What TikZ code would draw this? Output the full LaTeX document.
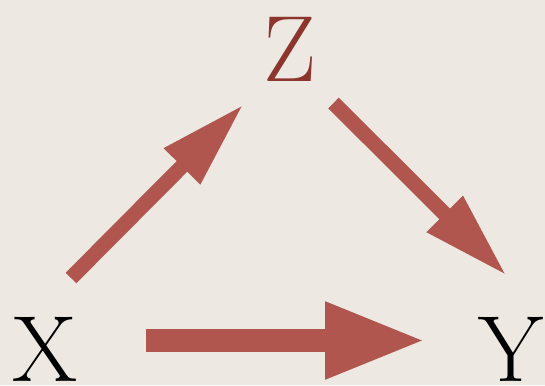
\documentclass[tikz,border=0pt]{standalone}
\usetikzlibrary{arrows.meta}
\definecolor{bg}{HTML}{EDE8E2}
\definecolor{arrowred}{HTML}{B0564E}
\definecolor{zred}{HTML}{8C352D}
\begin{document}
\begin{tikzpicture}[x=1pt,y=-1pt,
  letter/.style={inner sep=0pt,anchor=base,font=\fontsize{94}{94}\selectfont},
  diagarrow/.style={draw=arrowred,line width=15pt,-{Triangle[length=88pt,width=47pt]},arrowred},
  horzarrow/.style={draw=arrowred,line width=23pt,-{Triangle[length=101pt,width=71pt]},arrowred}]
\fill[bg] (0,0) rectangle (545,385);
\useasboundingbox (0,0) rectangle (545,385);
\node[letter,text=zred] (Z) at (290,82) {Z};
\node[letter] (X) at (45.5,381) {X};
\node[letter] (Y) at (511,381) {Y};
\coordinate (xzs) at (71,278);
\coordinate (xze) at (244,104);
\coordinate (zys) at (333.5,103);
\coordinate (zye) at (507,276);
\coordinate (xys) at (146,340.5);
\coordinate (xye) at (426,340.5);
\draw[diagarrow] (xzs) -- (xze);
\draw[diagarrow] (zys) -- (zye);
\draw[horzarrow] (xys) -- (xye);
\end{tikzpicture}
\end{document}
